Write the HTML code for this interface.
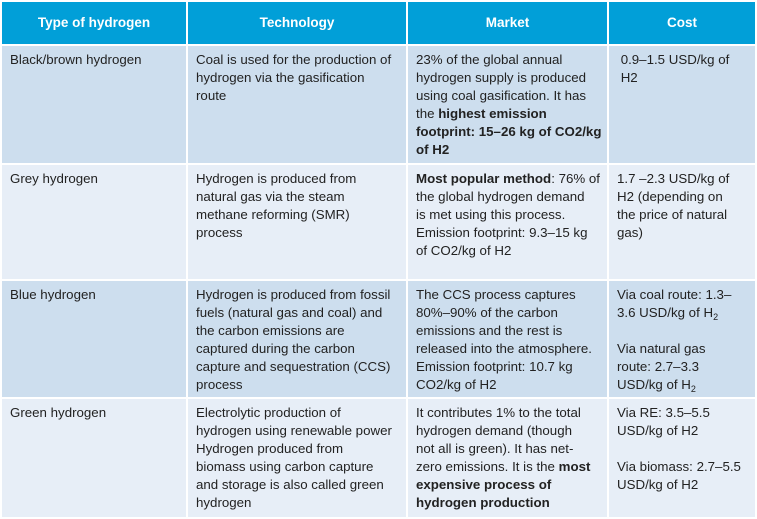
<!DOCTYPE html>
<html><head><style>
body{margin:0;width:757px;height:519px;background:#fff;overflow:hidden;font-family:"Liberation Sans",sans-serif;}
.c{position:absolute;box-sizing:border-box;padding:5px 0 0 8px;font-size:13.3px;line-height:18px;color:#222;white-space:nowrap;overflow:hidden;}
.h{background:#019fd8;color:#fff;font-weight:bold;text-align:center;padding:0;line-height:42px;font-size:13.5px;}
.a{background:#cddeee;}
.b{background:#e7eef7;}
sub{font-size:9px;line-height:0;vertical-align:-3px;}
</style></head><body>
<div class="c h" style="left:2px;top:2px;width:184px;height:42px">Type of hydrogen</div>
<div class="c h" style="left:188px;top:2px;width:218px;height:42px">Technology</div>
<div class="c h" style="left:408px;top:2px;width:199px;height:42px">Market</div>
<div class="c h" style="left:609px;top:2px;width:146px;height:42px">Cost</div>

<div class="c a" style="left:2px;top:46px;width:184px;height:117px">Black/brown hydrogen</div>
<div class="c a" style="left:188px;top:46px;width:218px;height:117px">Coal is used for the production of<br>hydrogen via the gasification<br>route</div>
<div class="c a" style="left:408px;top:46px;width:199px;height:117px">23% of the global annual<br>hydrogen supply is produced<br>using coal gasification. It has<br>the <b>highest emission</b><br><b>footprint: 15–26 kg of CO2/kg</b><br><b>of H2</b></div>
<div class="c a" style="left:609px;top:46px;width:146px;height:117px">&nbsp;0.9–1.5 USD/kg of<br>&nbsp;H2</div>

<div class="c b" style="left:2px;top:165px;width:184px;height:114px">Grey hydrogen</div>
<div class="c b" style="left:188px;top:165px;width:218px;height:114px">Hydrogen is produced from<br>natural gas via the steam<br>methane reforming (SMR)<br>process</div>
<div class="c b" style="left:408px;top:165px;width:199px;height:114px"><b>Most popular method</b>: 76% of<br>the global hydrogen demand<br>is met using this process.<br>Emission footprint: 9.3–15 kg<br>of CO2/kg of H2</div>
<div class="c b" style="left:609px;top:165px;width:146px;height:114px">1.7 –2.3 USD/kg of<br>H2 (depending on<br>the price of natural<br>gas)</div>

<div class="c a" style="left:2px;top:281px;width:184px;height:116px">Blue hydrogen</div>
<div class="c a" style="left:188px;top:281px;width:218px;height:116px">Hydrogen is produced from fossil<br>fuels (natural gas and coal) and<br>the carbon emissions are<br>captured during the carbon<br>capture and sequestration (CCS)<br>process</div>
<div class="c a" style="left:408px;top:281px;width:199px;height:116px">The CCS process captures<br>80%–90% of the carbon<br>emissions and the rest is<br>released into the atmosphere.<br>Emission footprint: 10.7 kg<br>CO2/kg of H2</div>
<div class="c a" style="left:609px;top:281px;width:146px;height:116px">Via coal route: 1.3–<br>3.6 USD/kg of H<sub>2</sub><br><br>Via natural gas<br>route: 2.7–3.3<br>USD/kg of H<sub>2</sub></div>

<div class="c b" style="left:2px;top:399px;width:184px;height:118px">Green hydrogen</div>
<div class="c b" style="left:188px;top:399px;width:218px;height:118px">Electrolytic production of<br>hydrogen using renewable power<br>Hydrogen produced from<br>biomass using carbon capture<br>and storage is also called green<br>hydrogen</div>
<div class="c b" style="left:408px;top:399px;width:199px;height:118px">It contributes 1% to the total<br>hydrogen demand (though<br>not all is green). It has net-<br>zero emissions. It is the <b>most</b><br><b>expensive process of</b><br><b>hydrogen production</b></div>
<div class="c b" style="left:609px;top:399px;width:146px;height:118px">Via RE: 3.5–5.5<br>USD/kg of H2<br><br>Via biomass: 2.7–5.5<br>USD/kg of H2</div>
</body></html>
